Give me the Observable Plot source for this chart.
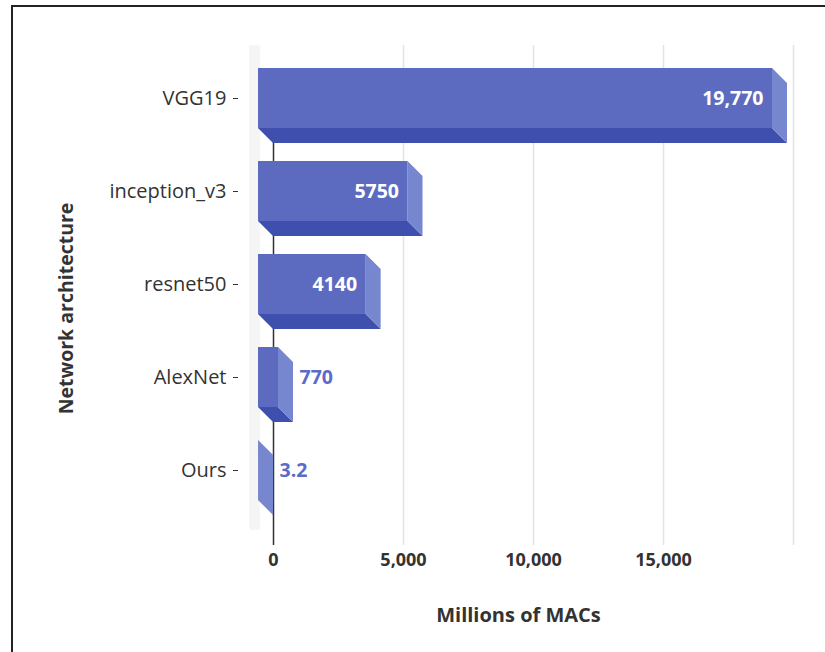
<!DOCTYPE html>
<html>
<head>
<meta charset="utf-8">
<script src="https://cdn.jsdelivr.net/npm/d3@7"></script>
<script src="https://cdn.jsdelivr.net/npm/@observablehq/plot@0.6"></script>
<style>
  body { margin: 0; background: #fff; }
  #frame { position: relative; width: 825px; height: 652px; overflow: hidden; }
  #frame::after { content: ""; position: absolute; left: 11px; top: 5px; right: -4px; bottom: -4px;
    border-left: 2px solid #222; border-top: 2px solid #222; pointer-events: none; }
</style>
</head>
<body>
<div id="frame"></div>
<script>
// ---- data ----
const architectures = ["VGG19", "inception_v3", "resnet50", "AlexNet", "Ours"];
const macs = [19770, 5750, 4140, 770, 3.2];
const valueLabels = ["19,770", "5750", "4140", "770", "3.2"];
const xTicks = [0, 5000, 10000, 15000];
const gridTicks = [5000, 10000, 15000, 20000];

const data = architectures.map((name, i) => ({ name, value: macs[i], label: valueLabels[i] }));

// ---- style ----
const D = 15; // 3D depth in px
const frontColor = "#5c6bc0";
const bottomColor = "#3f4fae";
const sideColor = "#7686cf";
const outsideLabelColor = "#5c6bc8";

function bars3d(index, scales, values, dimensions) {
  const x = scales.x, y = scales.y;
  const bw = typeof y.bandwidth === "function" ? y.bandwidth() : scales.scales.y.bandwidth;
  const g = d3.create("svg:g");
  // left wall
  g.append("rect")
    .attr("x", x(0) - D - 9).attr("y", dimensions.marginTop)
    .attr("width", 11).attr("height", dimensions.height - dimensions.marginTop - dimensions.marginBottom - 15)
    .attr("rx", 3)
    .attr("fill", "#f5f5f5");
  for (const d of data) {
    const x0 = x(0), x1 = x(d.value), y0 = y(d.name), y1 = y0 + bw;
    g.append("path")
      .attr("d", `M${x0 - D},${y1 - D}L${x1 - D},${y1 - D}L${x1},${y1}L${x0},${y1}Z`)
      .attr("fill", bottomColor);
    g.append("path")
      .attr("d", `M${x1 - D},${y0 - D}L${x1},${y0}L${x1},${y1}L${x1 - D},${y1 - D}Z`)
      .attr("fill", sideColor);
    g.append("rect")
      .attr("x", x0 - D).attr("y", y0 - D)
      .attr("width", Math.max(0, x1 - x0)).attr("height", bw)
      .attr("fill", frontColor);
  }
  return g.node();
}

const chart = Plot.plot({
  width: 825,
  height: 652,
  marginLeft: 273,
  marginRight: 32,
  marginTop: 45,
  marginBottom: 107,
  style: { fontFamily: "'Open Sans', sans-serif", fontSize: "18px", color: "#333", background: "transparent", overflow: "visible" },
  x: { domain: [0, 20000] },
  y: { type: "band", domain: architectures, paddingInner: 0.36, paddingOuter: 0.3467, align: 0.56 },
  marks: [
    Plot.ruleX(gridTicks, { stroke: "#e3e3e3", strokeWidth: 1.5 }),
    Plot.ruleX([0], { stroke: "#333", strokeWidth: 1.5, insetTop: 40 }),
    bars3d,
    Plot.text(data.filter(d => d.value > 2000), {
      x: "value", y: "name", text: "label", dx: -D - 9, dy: -D,
      textAnchor: "end", fill: "white", fontWeight: "bold", fontSize: 19.5
    }),
    Plot.text(data.filter(d => d.value <= 2000), {
      x: "value", y: "name", text: "label", dx: 6, dy: -D,
      textAnchor: "start", fill: outsideLabelColor, fontWeight: "bold", fontSize: 19.5
    }),
    Plot.axisY({ tickSize: 5, tickPadding: 7, dx: -35, dy: -D, fontSize: 20, label: null }),
    Plot.axisX({ ticks: xTicks, tickSize: 0, tickPadding: 8, tickFormat: d3.format(","), fontWeight: "bold", fontSize: 18, label: null }),
    Plot.text(["Millions of MACs"], { frameAnchor: "bottom", lineAnchor: "middle", dy: 70, dx: -D, fontWeight: "bold", fontSize: 20 }),
    Plot.text(["Network architecture"], { frameAnchor: "left", textAnchor: "middle", rotate: -90, dx: -207, dy: 13, fontWeight: "bold", fontSize: 19.5 })
  ]
});
document.getElementById("frame").appendChild(chart);
</script>
</body>
</html>
